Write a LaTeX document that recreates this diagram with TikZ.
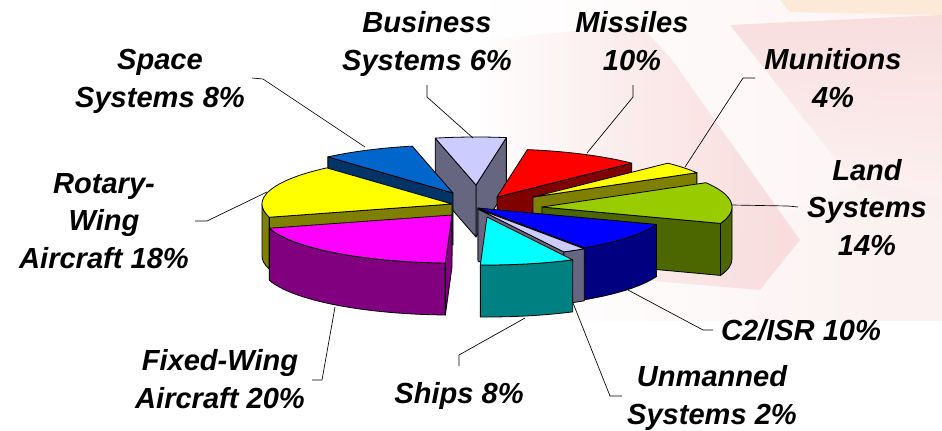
\documentclass[tikz,border=0pt]{standalone}
\usepackage{fontspec}
\setmainfont{Liberation Sans}
\usetikzlibrary{positioning,fadings}
\definecolor{busTop}{HTML}{CCCCFF}
\definecolor{busSide}{HTML}{666680}
\definecolor{misTop}{HTML}{FF0000}
\definecolor{misSide}{HTML}{800000}
\definecolor{munTop}{HTML}{FFFF00}
\definecolor{munSide}{HTML}{808000}
\definecolor{lndTop}{HTML}{99CC00}
\definecolor{lndSide}{HTML}{4C6600}
\definecolor{ctwoTop}{HTML}{0000FF}
\definecolor{ctwoSide}{HTML}{000080}
\definecolor{shpTop}{HTML}{00FFFF}
\definecolor{shpSide}{HTML}{008080}
\definecolor{fixTop}{HTML}{FF00FF}
\definecolor{fixSide}{HTML}{800080}
\definecolor{spcTop}{HTML}{0066CC}
\definecolor{spcSide}{HTML}{003366}
\definecolor{bgPink}{HTML}{F8D6D6}
\definecolor{bgPeach}{HTML}{FCE9D8}
\newcommand{\topface}[4]{\filldraw[pieface,fill=#4] (#1) -- ++(#2:190 and 48) arc[start angle=#2,end angle=#3,x radius=190,y radius=48] -- cycle;}
\newcommand{\rimface}[4]{\filldraw[pieface,fill=#4] (#1) ++(#2:190 and 48) arc[start angle=#2,end angle=#3,x radius=190,y radius=48] -- ++(0,-52) arc[start angle=#3,end angle=#2,x radius=190,y radius=48] -- cycle;}
\newcommand{\cutface}[3]{\filldraw[pieface,fill=#3] (#1) -- ++(#2:190 and 48) -- ++(0,-52) -- ++({#2+180}:190 and 48) -- cycle;}

\begin{document}
\begin{tikzpicture}[x=0.75pt,y=0.75pt]

  \tikzstyle{pieface} = [draw=black,line width=0.6pt,line join=round]
  \tikzstyle{pielabel} = [font=\fontsize{21.8}{28.1}\selectfont\bfseries\itshape,align=center,anchor=base,inner sep=0pt]
  \tikzstyle{leader} = [draw=black,line width=0.5pt]

  \useasboundingbox (0,0) rectangle (942,430);
  \fill[white] (0,0) rectangle (942,430);

  % faded picture behind the chart
  \shade[left color=white,right color=bgPink!30] (470,110) rectangle (942,430);
  \fill[bgPink!35,path fading=west] (720,190) -- (870,250) -- (942,230) -- (942,110) -- (720,110) -- cycle;
  \fill[bgPink!85,path fading=west] (480,390) -- (640,405) -- (670,373) -- (800,190) -- (760,140) -- (640,150) -- (560,200) -- (480,280) -- cycle;
  \fill[bgPink!80,path fading=south] (730,405) -- (942,415) -- (942,210) -- (860,240) -- cycle;
  \fill[bgPeach] (780,430) -- (942,430) -- (942,415) -- (790,418) -- cycle;

  \coordinate (busTip) at (476,245);
  \coordinate (spcTip) at (453,237);
  \coordinate (misTip) at (497,233);
  \coordinate (munTip) at (533,233);
  \coordinate (rotTip) at (452,226);
  \coordinate (lndTip) at (542,223);
  \coordinate (ctwoTip) at (478,222);
  \coordinate (unmTip) at (478,221);
  \coordinate (shpTip) at (487,213);
  \coordinate (fixTip) at (452,215);

  \cutface{busTip}{80.8}{busSide}
  \cutface{busTip}{102.4}{busSide}
  \topface{busTip}{80.8}{102.4}{busTop}

  \cutface{spcTip}{131.2}{spcSide}
  \topface{spcTip}{102.4}{131.2}{spcTop}

  \cutface{misTip}{44.8}{misSide}
  \topface{misTip}{44.8}{80.8}{misTop}

  \cutface{munTip}{30.4}{munSide}
  \topface{munTip}{30.4}{44.8}{munTop}

  \rimface{rotTip}{180}{196}{munSide}
  \cutface{rotTip}{196}{munSide}
  \topface{rotTip}{131.2}{196}{munTop}

  \rimface{lndTip}{-20}{0}{lndSide}
  \cutface{lndTip}{-20}{lndSide}
  \topface{lndTip}{-20}{30.4}{lndTop}

  \rimface{ctwoTip}{-56}{-20}{ctwoSide}
  \cutface{ctwoTip}{-56}{ctwoSide}
  \topface{ctwoTip}{-56}{-20}{ctwoTop}

  \rimface{unmTip}{-63.2}{-56}{busSide}
  \cutface{unmTip}{-63.2}{busSide}
  \topface{unmTip}{-63.2}{-56}{busTop}

  \rimface{fixTip}{196}{268}{fixSide}
  \cutface{fixTip}{268}{fixSide}
  \topface{fixTip}{196}{268}{fixTop}

  \rimface{shpTip}{-92}{-63.2}{shpSide}
  \topface{shpTip}{-92}{-63.2}{shpTop}

  \node[pielabel] (spcLbl) at (160,323) {Space\\Systems 8\%};
  \node[pielabel] (busLbl) at (427,360) {Business\\Systems 6\%};
  \node[pielabel] (misLbl) at (632,360) {Missiles\\10\%};
  \node[pielabel] (munLbl) at (833,323) {Munitions\\4\%};
  \node[pielabel] (lndLbl) at (867,175) {Land\\Systems\\14\%};
  \node[pielabel] (rotLbl) at (104,162) {Rotary-\\Wing\\Aircraft 18\%};
  \node[pielabel] (fixLbl) at (220,22) {Fixed-Wing\\Aircraft 20\%};
  \node[pielabel] (shpLbl) at (459,27) {Ships 8\%};
  \node[pielabel] (ctwoLbl) at (801,90) {C2/ISR 10\%};
  \node[pielabel] (unmLbl) at (712,6) {Unmanned\\Systems 2\%};

  \foreach \n/\ax/\ay/\bx/\by/\ex/\ey in {spc/252/352/263/351/365/283, bus/427/345/427/333/473/292,
      mis/633/345/633/333/587/277, mun/755/352/743/352/685/263, lnd/798/223/788/224/732/225,
      rot/195/209/207/209/267/238, fix/312/50/322/50/335/123, shp/459/64/459/75/525/112,
      ctwo/713/100/703/100/628/140, unm/622/34/610/34/573/127} {
    \coordinate (\n-a) at (\ax,\ay);
    \coordinate (\n-b) at (\bx,\by);
    \coordinate (\n-c) at (\ex,\ey);
    \draw[leader] (\n-a) -- (\n-b) -- (\n-c);
  }

\end{tikzpicture}
\end{document}
